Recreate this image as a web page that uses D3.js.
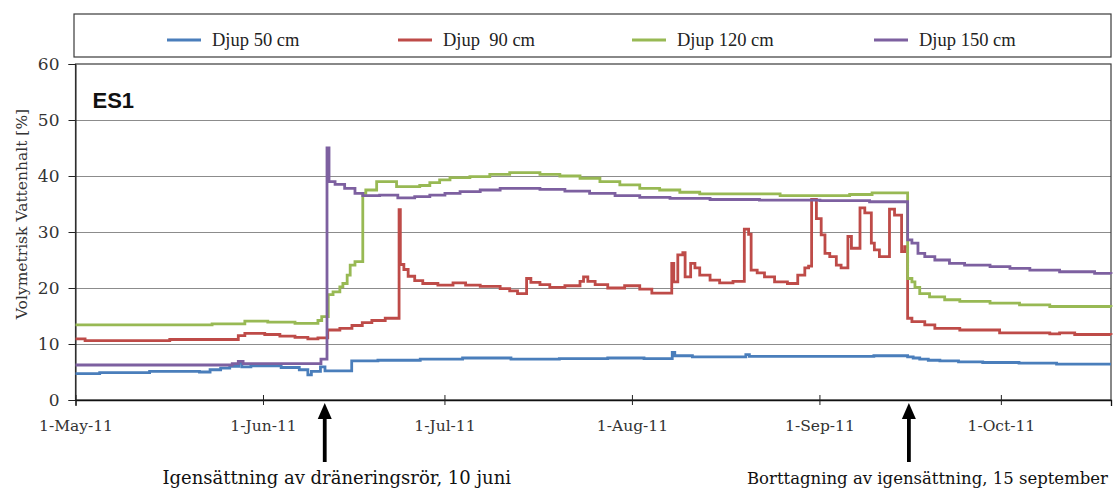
<!DOCTYPE html>
<html>
<head>
<meta charset="utf-8">
<script src="https://cdn.jsdelivr.net/npm/d3@7"></script>
<style>
  body { margin: 0; background: #fff; }
  svg { display: block; }
</style>
</head>
<body>
<svg width="1113" height="491"></svg>
<script>
// series values, [date (2011 month-day hour), volumetric water content %]
const djup50 = [
  ["05-01 00",4.7],["05-05 00",4.9],["05-13 06",5.1],["05-21 12",5.0],["05-23 06",5.4],["05-25 00",5.7],
  ["05-26 12",6.0],["05-28 00",6.6],["05-28 12",5.9],["05-30 00",6.1],["06-04 00",5.8],["06-07 00",5.4],
  ["06-08 10",4.5],["06-09 00",5.1],["06-10 12",5.9],["06-11 06",5.2],["06-15 16",7.0],["06-20 00",7.1],
  ["06-27 00",7.3],["07-04 00",7.5],["07-12 00",7.3],["07-20 00",7.4],["07-28 00",7.5],["08-03 00",7.4],
  ["08-07 16",8.5],["08-08 02",7.9],["08-11 00",7.7],["08-19 20",8.1],["08-20 10",7.8],["09-01 00",7.8],
  ["09-10 00",7.9],["09-15 14",7.7],["09-16 12",7.5],["09-17 14",7.3],["09-19 00",7.1],["09-20 22",7.0],
  ["09-24 00",6.8],["09-28 00",6.7],["10-04 00",6.6],["10-10 05",6.4],["10-19 05",6.4]
];
const djup90 = [
  ["05-01 00",10.9],["05-02 14",10.6],["05-16 14",10.8],["05-27 22",11.5],["05-29 00",11.9],["06-01 07",11.7],
  ["06-03 19",11.4],["06-06 07",11.2],["06-08 10",10.9],["06-10 02",11.1],["06-11 17",12.5],["06-13 17",12.8],
  ["06-15 17",13.3],["06-17 10",13.8],["06-19 00",14.2],["06-21 05",14.6],["06-23 12",34.0],["06-23 17",24.2],
  ["06-24 07",23.3],["06-25 00",22.1],["06-26 02",21.3],["06-27 10",20.8],["06-29 22",20.5],["07-02 10",20.9],
  ["07-04 12",20.5],["07-06 22",20.3],["07-10 05",19.9],["07-11 19",19.5],["07-13 02",19.0],["07-14 14",21.7],
  ["07-15 07",21.0],["07-16 19",20.6],["07-18 10",20.1],["07-20 22",20.4],["07-23 10",21.2],["07-24 00",22.0],
  ["07-24 17",21.2],["07-25 22",20.6],["07-28 00",20.0],["07-30 19",20.4],["08-02 07",19.8],["08-04 07",19.1],
  ["08-07 14",24.4],["08-07 22",21.1],["08-08 14",25.9],["08-09 10",26.3],["08-09 19",22.0],["08-10 17",24.4],
  ["08-11 10",23.6],["08-12 05",22.3],["08-13 22",21.4],["08-15 12",20.9],["08-17 17",21.2],["08-19 14",30.5],
  ["08-20 07",29.6],["08-20 17",23.2],["08-21 17",22.7],["08-22 22",22.0],["08-24 14",21.1],["08-26 17",20.8],
  ["08-28 10",22.3],["08-29 14",23.6],["08-30 05",23.9],["08-30 17",35.8],["08-31 12",32.4],["09-01 07",29.5],
  ["09-01 22",26.2],["09-02 17",25.6],["09-03 19",24.1],["09-04 14",23.6],["09-05 17",29.2],["09-06 07",27.1],
  ["09-07 17",34.3],["09-08 12",33.4],["09-09 14",28.0],["09-10 02",26.8],["09-10 22",25.6],["09-12 14",34.1],
  ["09-13 10",33.0],["09-14 14",26.5],["09-15 02",27.4],["09-15 14",14.6],["09-16 07",14.0],["09-18 10",13.4],
  ["09-20 02",12.8],["09-24 05",12.5],["09-30 19",12.0],["10-09 02",11.8],["10-10 17",12.0],["10-13 05",11.7],
  ["10-19 05",11.6]
];
const djup120 = [
  ["05-01 00",13.4],["05-23 14",13.6],["05-29 00",14.1],["06-01 19",13.9],["06-06 07",13.7],["06-10 02",14.2],
  ["06-10 17",14.9],["06-11 19",18.8],["06-12 14",19.3],["06-13 17",20.2],["06-14 05",20.8],["06-14 22",22.3],
  ["06-15 10",24.1],["06-16 05",24.7],["06-17 12",36.9],["06-18 00",37.5],["06-19 19",39.0],["06-23 02",38.1],
  ["06-26 22",38.3],["06-28 14",38.8],["06-30 05",39.3],["07-01 22",39.7],["07-05 05",39.9],["07-08 12",40.3],
  ["07-11 19",40.6],["07-16 19",40.3],["07-20 02",40.0],["07-23 10",39.6],["07-26 17",39.0],["07-30 00",38.4],
  ["08-02 07",37.8],["08-05 14",37.5],["08-08 22",37.1],["08-12 05",36.8],["08-25 12",36.5],["09-06 00",36.7],
  ["09-09 17",37.0],["09-15 14",21.7],["09-16 07",21.1],["09-16 19",20.1],["09-17 14",19.0],["09-19 05",18.4],
  ["09-21 17",17.9],["09-24 05",17.6],["09-29 05",17.3],["10-04 02",17.0],["10-09 02",16.7],["10-19 05",16.6]
];
const djup150 = [
  ["05-01 00",6.25],["05-26 22",6.5],["05-27 22",6.9],["05-28 17",6.5],["06-10 14",7.3],["06-11 14",45.0],
  ["06-11 22",39.0],["06-12 22",38.5],["06-14 12",37.8],["06-16 05",36.9],["06-17 12",36.5],["06-20 07",36.6],
  ["06-23 07",36.1],["06-26 02",36.3],["06-28 14",36.6],["07-01 02",36.9],["07-03 14",37.2],["07-06 22",37.5],
  ["07-10 05",37.8],["07-16 19",37.6],["07-20 22",37.3],["07-25 00",36.9],["07-29 05",36.5],["08-02 07",36.2],
  ["08-07 07",36.0],["08-13 22",35.8],["08-22 02",35.7],["09-01 02",35.6],["09-09 07",35.4],["09-15 14",28.6],
  ["09-16 07",28.0],["09-17 07",26.2],["09-18 10",25.6],["09-20 02",25.0],["09-22 12",24.4],["09-25 00",24.1],
  ["09-29 05",23.8],["10-02 12",23.5],["10-05 19",23.2],["10-10 17",22.9],["10-16 12",22.6],["10-19 05",22.5]
];

const seriesNames = ["Djup 50 cm", "Djup  90 cm", "Djup 120 cm", "Djup 150 cm"];
const yTicks = [0, 10, 20, 30, 40, 50, 60];
const xTicks = ["05-01 00", "06-01 00", "07-01 00", "08-01 00", "09-01 00", "10-01 00"];
const xEnd = "10-19 05";
const events = [
  ["06-11 05", "Igensättning av dräneringsrör, 10 juni"],
  ["09-15 19", "Borttagning av igensättning, 15 september"]
];

const colors = ["#4a7ebb", "#be4b48", "#98b954", "#7d60a0"];

const parseTime = d3.timeParse("%Y-%m-%d %H");
const p = s => parseTime("2011-" + s);

const svg = d3.select('svg');
const width = +svg.attr('width');
const height = +svg.attr('height');
const margin = {top: 64, right: 2, bottom: 91, left: 75.5};
const innerWidth = width - margin.left - margin.right;
const innerHeight = height - margin.top - margin.bottom;

const xScale = d3.scaleTime()
  .domain([p(xTicks[0]), p(xEnd)])
  .range([0, innerWidth]);

const yScale = d3.scaleLinear()
  .domain([0, 60])
  .range([innerHeight, 0]);

const g = svg.append('g')
  .attr('transform', `translate(${margin.left},${margin.top})`);

// gridlines
const grid = g.append('g')
  .call(d3.axisLeft(yScale).tickValues(yTicks.slice(1, -1)).tickSize(-innerWidth).tickFormat(''));
grid.select('.domain').remove();
grid.selectAll('.tick line').attr('stroke', '#8c8c8c').attr('stroke-width', 1);

// plot frame
g.append('rect')
  .attr('width', innerWidth)
  .attr('height', innerHeight)
  .attr('fill', 'none')
  .attr('stroke', '#3a3a3a')
  .attr('stroke-width', 1.2);

// y axis
const yAxisG = g.append('g')
  .call(d3.axisLeft(yScale).tickValues(yTicks).tickSize(7).tickPadding(9));
yAxisG.select('.domain').attr('stroke', '#222');
yAxisG.selectAll('.tick line').attr('stroke', '#222');
yAxisG.selectAll('.tick text')
  .attr('font-family', 'DejaVu Serif')
  .attr('font-size', 17)
  .attr('fill', '#333');

// x axis
const xAxisG = g.append('g')
  .attr('transform', `translate(0,${innerHeight})`)
  .call(d3.axisBottom(xScale)
    .tickValues(xTicks.map(p))
    .tickFormat(d3.timeFormat('%-d-%b-%y')));
xAxisG.select('.domain').attr('stroke', '#111').attr('stroke-width', 1.3);
xAxisG.selectAll('.tick line').attr('y1', -5).attr('y2', 5).attr('stroke', '#222');
xAxisG.selectAll('.tick text')
  .attr('y', 20)
  .attr('font-family', 'DejaVu Serif')
  .attr('font-size', 15.5)
  .attr('fill', '#333');

// lines
const line = d3.line()
  .x(d => xScale(p(d[0])))
  .y(d => yScale(d[1]))
  .curve(d3.curveStepAfter);

[djup50, djup90, djup120, djup150].forEach((data, i) => {
  g.append('path')
    .datum(data)
    .attr('d', line)
    .attr('fill', 'none')
    .attr('stroke', colors[i])
    .attr('stroke-width', 2.8)
    .attr('stroke-linejoin', 'miter');
});

// station label
g.append('text')
  .text('ES1')
  .attr('x', 17)
  .attr('y', 44)
  .attr('font-family', 'Liberation Sans')
  .attr('font-weight', 700)
  .attr('font-size', 22)
  .attr('fill', '#111');

// y axis title
svg.append('text')
  .text('Volymetrisk Vattenhalt [%]')
  .attr('transform', 'translate(27,214) rotate(-90)')
  .attr('text-anchor', 'middle')
  .attr('font-family', 'DejaVu Serif')
  .attr('font-size', 15.5)
  .attr('fill', '#333');

// legend
svg.append('rect')
  .attr('x', 74).attr('y', 14)
  .attr('width', 1037).attr('height', 43)
  .attr('fill', '#fff')
  .attr('stroke', '#3a3a3a')
  .attr('stroke-width', 1.2);

const legendX = [167, 398, 632, 874];
const legend = svg.append('g');
seriesNames.forEach((name, i) => {
  legend.append('line')
    .attr('x1', legendX[i]).attr('x2', legendX[i] + 34)
    .attr('y1', 40).attr('y2', 40)
    .attr('stroke', colors[i])
    .attr('stroke-width', 3);
  legend.append('text')
    .text(name)
    .attr('x', legendX[i] + 45)
    .attr('y', 46)
    .style('white-space', 'pre')
    .attr('font-family', 'Liberation Serif')
    .attr('font-size', 18.5)
    .attr('fill', '#222');
});

// event arrows and notes
events.forEach((ev, i) => {
  const ax = margin.left + xScale(p(ev[0]));
  svg.append('line')
    .attr('x1', ax).attr('x2', ax)
    .attr('y1', 414).attr('y2', 462)
    .attr('stroke', '#000')
    .attr('stroke-width', 3.8);
  svg.append('path')
    .attr('d', `M${ax},403 L${ax - 7},419 L${ax + 7},419 Z`)
    .attr('fill', '#000');
  svg.append('text')
    .text(ev[1])
    .attr('x', i === 0 ? ax + 12 : width - 5)
    .attr('y', 484)
    .attr('text-anchor', i === 0 ? 'middle' : 'end')
    .attr('font-family', 'DejaVu Serif')
    .attr('font-size', i === 0 ? 18 : 16.5)
    .attr('fill', '#111');
});
</script>
</body>
</html>
